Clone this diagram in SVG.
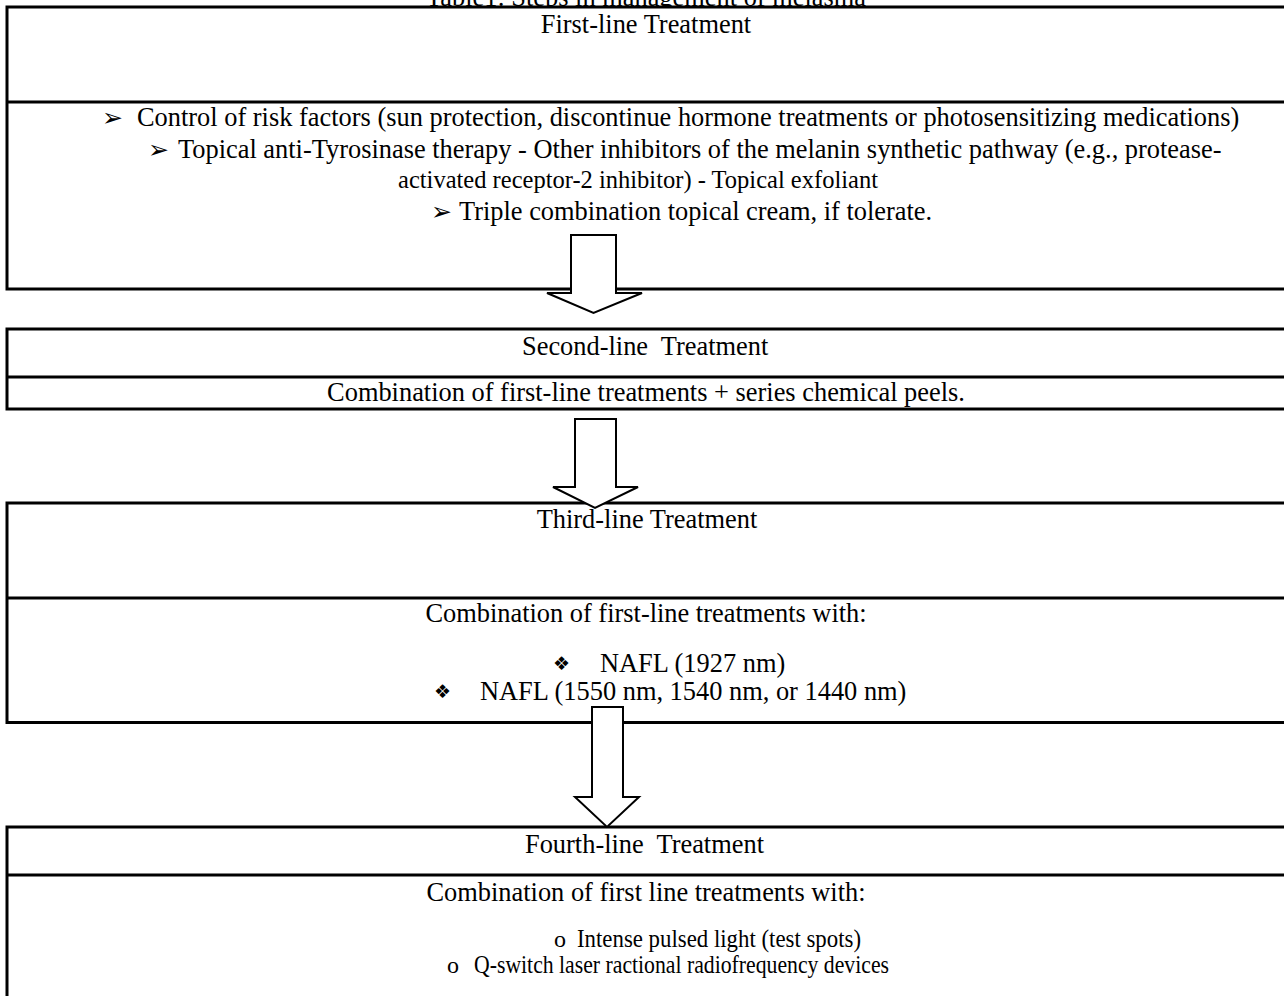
<svg xmlns="http://www.w3.org/2000/svg" width="1284" height="996" viewBox="0 0 1284 996">
<style>
.box{fill:#fff;stroke:#000;stroke-width:3}
.div{stroke:#000;stroke-width:3}
.t{font-family:"Liberation Serif","Times New Roman",serif;font-size:26.4px;fill:#000}
.c{text-anchor:middle}
.b{font-family:"DejaVu Sans",sans-serif;font-size:25px;fill:#000}
.d{font-family:"DejaVu Sans",sans-serif;font-size:19px;fill:#000}
.arrow{fill:#fff;stroke:#000;stroke-width:2;stroke-linejoin:miter}
</style>
<rect width="1284" height="996" fill="#fff"/>
<text class="t c" x="646" y="5.5">Table1: Steps in management of melasma</text>
<g id="node-first">
<rect class="box" x="7" y="7" width="1290" height="282"/>
<line class="div" x1="7" y1="102" x2="1290" y2="102"/>
<text class="t c" x="646" y="33">First-line Treatment</text>
<text class="b" x="102" y="126">➢</text>
<text class="t" x="137" y="126">Control of risk factors (sun protection, discontinue hormone treatments or photosensitizing medications)</text>
<text class="b" x="148" y="158">➢</text>
<text class="t" x="178" y="158">Topical anti-Tyrosinase therapy - Other inhibitors of the melanin synthetic pathway (e.g., protease-</text>
<text class="t" x="398" y="188" style="font-size:25.6px" textLength="480" lengthAdjust="spacingAndGlyphs">activated receptor-2 inhibitor) - Topical exfoliant</text>
<text class="b" x="431" y="220">➢</text>
<text class="t" x="459" y="220">Triple combination topical cream, if tolerate.</text>
</g>
<g id="node-second">
<rect class="box" x="7" y="329" width="1290" height="80"/>
<line class="div" x1="7" y1="377" x2="1290" y2="377"/>
<text class="t" x="522" y="355" xml:space="preserve">Second-line  Treatment</text>
<text class="t c" x="646" y="401">Combination of first-line treatments + series chemical peels.</text>
</g>
<g id="node-third">
<rect class="box" x="7" y="503" width="1290" height="219.5"/>
<line class="div" x1="7" y1="598" x2="1290" y2="598"/>
<text class="t c" x="647" y="528">Third-line Treatment</text>
<text class="t c" x="646" y="622">Combination of first-line treatments with:</text>
<text class="d" x="553" y="670">❖</text>
<text class="t" x="600" y="672">NAFL (1927 nm)</text>
<text class="d" x="434" y="698">❖</text>
<text class="t" x="480" y="700">NAFL (1550 nm, 1540 nm, or 1440 nm)</text>
</g>
<g id="node-fourth">
<rect class="box" x="7" y="827" width="1290" height="200"/>
<line class="div" x1="7" y1="875" x2="1290" y2="875"/>
<text class="t c" x="646" y="901">Combination of first line treatments with:</text>
<text class="t" x="525" y="853" xml:space="preserve">Fourth-line  Treatment</text>
<text class="t" x="554" y="947" style="font-size:24px">o</text>
<text class="t" x="577" y="947" style="font-size:24.5px" textLength="284" lengthAdjust="spacingAndGlyphs">Intense pulsed light (test spots)</text>
<text class="t" x="447" y="973" style="font-size:24px">o</text>
<text class="t" x="474" y="973" style="font-size:24.5px" textLength="415" lengthAdjust="spacingAndGlyphs">Q-switch laser ractional radiofrequency devices</text>
</g>
<g id="connectors">
<path class="arrow" d="M571,235 L616,235 L616,293 L642,293 L593.5,313 L547,293 L571,293 Z"/>
<path class="arrow" d="M575,419 L616,419 L616,487 L638,487 L595,508 L553,487 L575,487 Z"/>
<path class="arrow" d="M592,707 L623,707 L623,797 L639,797 L607,827 L575,797 L592,797 Z"/>
</g>
</svg>
